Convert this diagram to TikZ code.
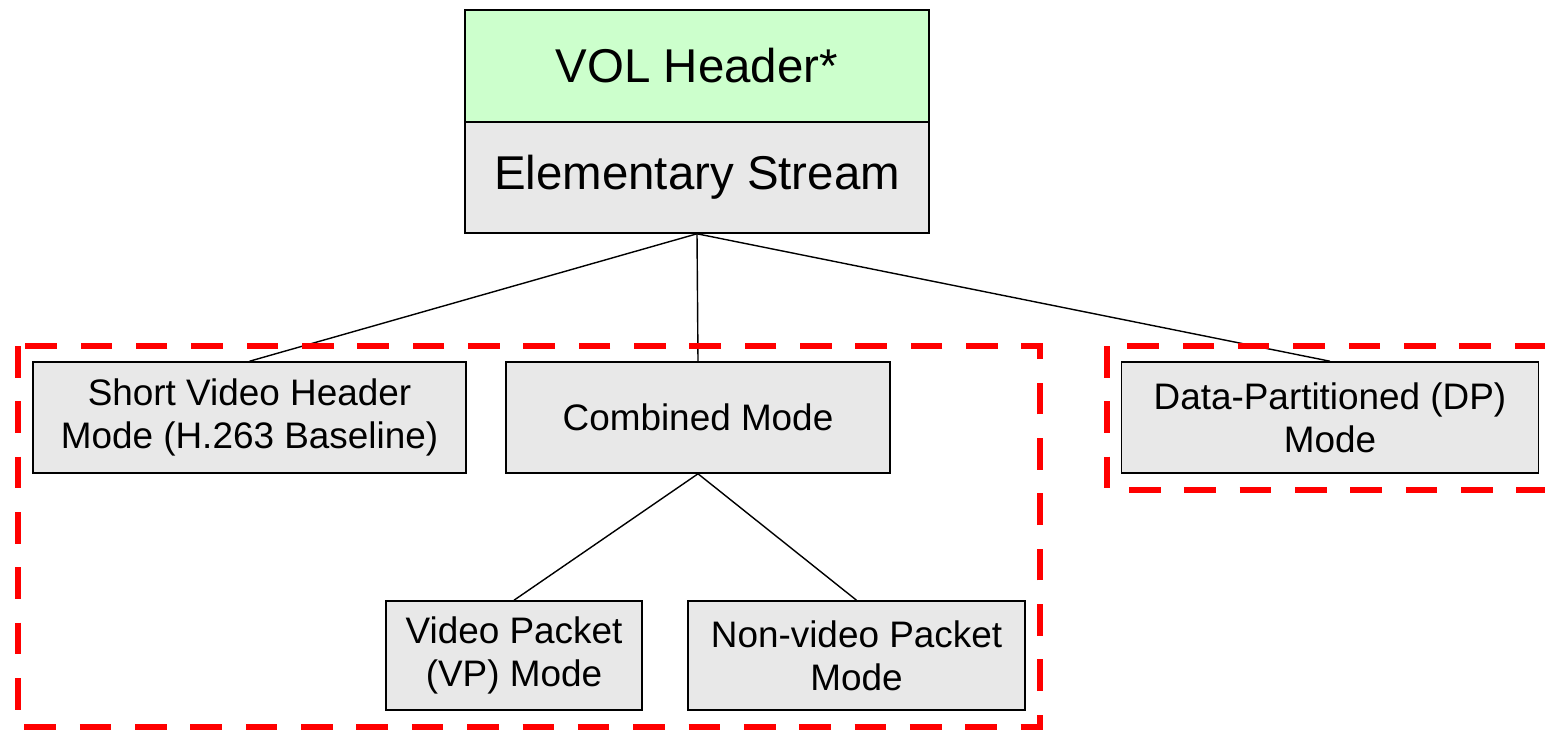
\documentclass[tikz,border=0pt]{standalone}
\usepackage{fontspec}
\setmainfont{Liberation Sans}
\definecolor{headgreen}{HTML}{CCFFCC}
\definecolor{boxgray}{HTML}{E8E8E8}
\begin{document}
\begin{tikzpicture}[x=0.02cm, y=-0.02cm,
    modebox/.style={draw, line width=0.9pt, fill=boxgray, align=center, inner sep=0pt,
      font=\fontsize{21}{24.5}\selectfont},
    topbox/.style={draw, line width=0.9pt, align=center, inner sep=0pt,
      minimum width=9.28cm, font=\fontsize{27}{32}\selectfont},
    link/.style={line width=0.8pt},
    group/.style={draw=red, line width=3.4pt, dash pattern=on 18pt off 13.5pt}]
  \useasboundingbox (0,0) rectangle (1545,731);

  % Stream header and elementary stream
  \node[topbox, fill=headgreen, minimum height=2.24cm] (vol)  at (697,66)  {VOL Header*};
  \node[topbox, fill=boxgray,   minimum height=2.22cm] (elem) at (697,177.5) {Elementary Stream};

  % Modes
  \node[modebox, minimum width=8.66cm, minimum height=2.22cm] (short) at (249.5,417.5)
    {Short Video Header\\Mode (H.263 Baseline)};
  \node[modebox, minimum width=7.68cm, minimum height=2.22cm] (comb)  at (698,417.5) {Combined Mode};
  \node[modebox, minimum width=8.34cm, minimum height=2.22cm] (dp)    at (1330,417.5)
    {Data-Partitioned (DP)\\Mode};

  % Sub-modes of the combined mode
  \node[modebox, minimum width=5.12cm, minimum height=2.18cm] (vp)  at (514,655.5)
    {Video Packet\\(VP) Mode};
  \node[modebox, minimum width=6.74cm, minimum height=2.18cm] (nvp) at (856.5,655.5)
    {Non-video Packet\\Mode};

  \draw[link] (elem.south) -- (short.north);
  \draw[link] (elem.south) -- (comb.north);
  \draw[link] (elem.south) -- (dp.north);
  \draw[link] (comb.south) -- (vp.north);
  \draw[link] (comb.south) -- (nvp.north);

  % Groupings
  \draw[group] (18,346) rectangle (1040,727);
  \draw[group] (1107,346) rectangle (1570,490);
\end{tikzpicture}
\end{document}
